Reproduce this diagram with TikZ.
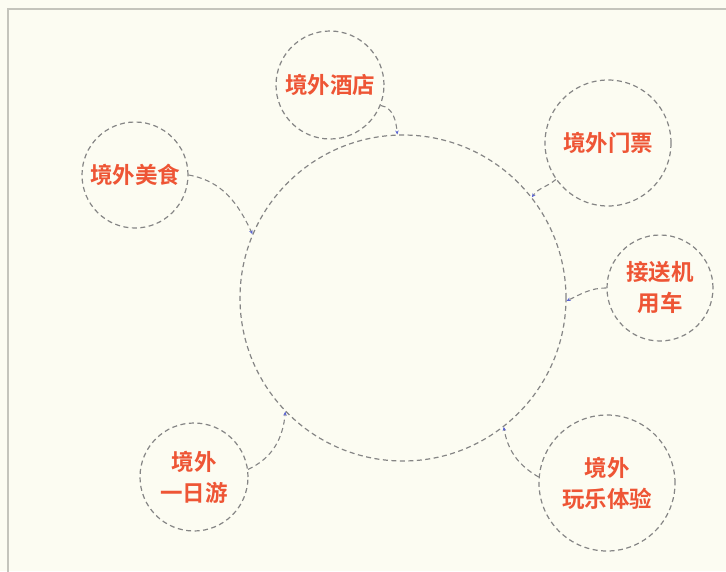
\documentclass[tikz,border=0pt]{standalone}
\usepackage{fontspec}
\setmainfont{Noto Sans CJK SC}[BoldFont={Noto Sans CJK SC Bold}]
\usetikzlibrary{arrows.meta}
\definecolor{bg}{HTML}{FCFCF2}
\definecolor{txt}{HTML}{EE5535}
\definecolor{ringc}{HTML}{858585}
\definecolor{tipc}{HTML}{5A64D2}
\definecolor{framec}{HTML}{C4C4BC}
\begin{document}
\begin{tikzpicture}[x=1pt,y=1pt,
  ringnode/.style={circle,draw=ringc,dash pattern=on 5pt off 3.5pt,line width=1.2pt,inner sep=0pt,
    text=txt,font=\fontsize{22.5}{31}\selectfont\bfseries,align=center},
  link/.style={draw=ringc,line width=1.1pt,dash pattern=on 5pt off 3.5pt,
    -{Stealth[length=4pt,width=3.5pt,color=tipc,fill=tipc]}}]
\useasboundingbox (0,0) rectangle (726,-571);
\fill[bg] (0,0) rectangle (726,-571);
\draw[framec,line width=1.2pt] (8,-575) -- (8,-9) -- (730,-9);

\node[ringnode,minimum size=326pt] (big) at (403,-298) {};
\node[ringnode,minimum size=108pt] (hotel) at (330,-85) {境外酒店};
\node[ringnode,minimum size=106pt] (food) at (135,-175) {境外美食};
\node[ringnode,minimum size=126pt] (ticket) at (608,-143) {境外门票};
\node[ringnode,minimum size=106pt] (car) at (660,-288) {接送机\\用车};
\node[ringnode,minimum size=108pt] (oneday) at (194,-477) {境外\\一日游};
\node[ringnode,minimum size=136pt] (play) at (607,-483) {境外\\玩乐体验};

\draw[link] (hotel.-22) to[out=-10,in=95] (big.92);
\draw[link] (food.0) to[out=-10,in=115] (big.157);
\draw[link] (ticket.215) to[out=220,in=55] (big.38);
\draw[link] (car.180) to[out=180,in=25] (big.-1);
\draw[link] (oneday.8) to[out=25,in=-95] (big.224);
\draw[link] (play.175) to[out=150,in=-80] (big.-52);
\end{tikzpicture}
\end{document}
